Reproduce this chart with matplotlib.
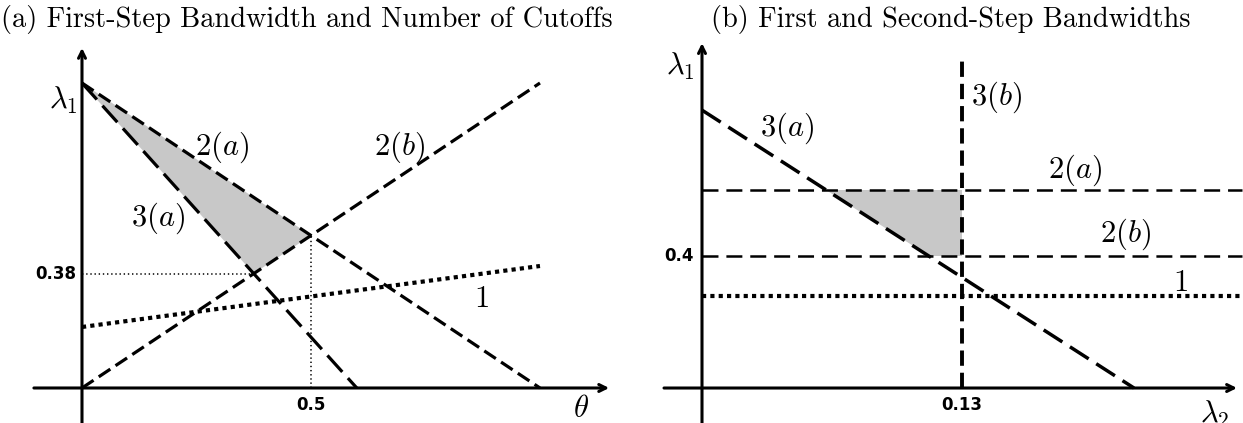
import numpy as np
import matplotlib
matplotlib.use("Agg")
import matplotlib.pyplot as plt

plt.rcParams['mathtext.fontset'] = 'cm'
plt.rcParams['lines.scale_dashes'] = False

# ---- panel (a): first-step bandwidth vs theta ----
theta_ends = [0.0, 1.0]
line_2a = [1.0, 0.0]
line_2b = [0.0, 1.0]
theta_3a = [0.0, 0.6]
line_3a = [1.0, 0.0]
line_1 = [0.2, 0.4]
theta_mark = 0.5
lam_mark = 0.375
tick_a_x = "0.5"
tick_a_y = "0.38"

# ---- panel (b): first vs second-step bandwidth ----
lam2_ends = [0.0, 0.27]
level_2a = 0.6
level_2b = 0.4
level_1 = 0.28
lam2_3a = [0.0, 0.216]
lam1_3a = [0.842, 0.0]
lam2_3b = 0.13
top_3b = 1.0
tick_b_x = "0.13"
tick_b_y = "0.4"

W, H = 1243, 423
fig = plt.figure(figsize=(W / 100, H / 100), dpi=100)


def px_axes(x0, x1, y_top):
    # axes spanning a pixel box, bottom at figure bottom
    return fig.add_axes([x0 / W, 0, (x1 - x0) / W, (H - y_top) / H])


def draw_axes(ax, xl, xr, yb, yt):
    arrow = dict(arrowstyle='->,head_length=0.5,head_width=0.25', lw=2.2, color='black',
                 shrinkA=0, shrinkB=0)
    ax.annotate('', xy=(xr, 0), xytext=(xl, 0), arrowprops=arrow)
    ax.annotate('', xy=(0, yt), xytext=(0, yb), arrowprops=arrow)


math_kw = dict(fontsize=22, ha='center', va='center')
tick_kw = dict(fontsize=12, fontweight='bold', family='DejaVu Sans', va='center')

# panel (a)
ax = px_axes(35, 615, 45)
ax.set_xlim(-0.1026, 1.1638)
ax.set_ylim(-0.1148, 1.1246)
ax.axis('off')
draw_axes(ax, -0.105, 1.151, -0.115, 1.115)

# shaded region between 3(a), 2(a) and 2(b)
ax.fill([0.0, theta_mark, lam_mark], [1.0, theta_mark, lam_mark], color='#c8c8c8', lw=0)
ax.plot(theta_ends, line_2a, color='black', lw=2.3, dashes=(10, 4.5))
ax.plot(theta_ends, line_2b, color='black', lw=2.3, dashes=(10, 4.5))
ax.plot(theta_3a, line_3a, color='black', lw=2.3, dashes=(16, 6))
ax.plot(theta_ends, line_1, color='black', lw=3, dashes=(3, 3))
ax.plot([theta_mark, theta_mark], [0, theta_mark], color='black', lw=1.1, dashes=(1, 2))
ax.plot([0, lam_mark], [lam_mark, lam_mark], color='black', lw=1.1, dashes=(1, 2))

ax.text(-0.041, 0.944, r'$\lambda_1$', **math_kw)
ax.text(0.306, 0.790, r'$2(a)$', **math_kw)
ax.text(0.694, 0.790, r'$2(b)$', **math_kw)
ax.text(0.166, 0.557, r'$3(a)$', **math_kw)
ax.text(0.873, 0.295, r'$1$', **math_kw)
ax.text(1.090, -0.066, r'$\theta$', **math_kw)
ax.text(-0.012, lam_mark, tick_a_y, ha='right', **tick_kw)
ax.text(theta_mark, -0.056, tick_a_x, ha='center', **tick_kw)

# panel (b)
bx = px_axes(660, 1243, 40)
bx.set_xlim(-0.021, 0.2705)
bx.set_ylim(-0.106, 1.0545)
bx.axis('off')
draw_axes(bx, -0.019, 0.2675, -0.11, 1.045)

slope = lam1_3a[0] / lam2_3a[1]
x_top = (lam1_3a[0] - level_2a) / slope
x_bot = (lam1_3a[0] - level_2b) / slope
bx.fill([x_top, lam2_3b, lam2_3b, x_bot], [level_2a, level_2a, level_2b, level_2b],
        color='#c8c8c8', lw=0)
bx.plot(lam2_ends, [level_2a, level_2a], color='black', lw=1.8, dashes=(11.5, 5.7))
bx.plot(lam2_ends, [level_2b, level_2b], color='black', lw=1.8, dashes=(11.5, 5.7))
bx.plot(lam2_ends, [level_1, level_1], color='black', lw=3, dashes=(3, 3))
bx.plot([lam2_3b, lam2_3b], [0, top_3b], color='black', lw=2.8, dashes=(11, 5))
bx.plot(lam2_3a, lam1_3a, color='black', lw=2.5, dashes=(16, 6.5))

bx.text(-0.011, 0.973, r'$\lambda_1$', **math_kw)
bx.text(0.1475, 0.882, r'$3(b)$', **math_kw)
bx.text(0.0425, 0.788, r'$3(a)$', **math_kw)
bx.text(0.1865, 0.661, r'$2(a)$', **math_kw)
bx.text(0.212, 0.467, r'$2(b)$', **math_kw)
bx.text(0.239, 0.321, r'$1$', **math_kw)
bx.text(0.2565, -0.080, r'$\lambda_2$', **math_kw)
bx.text(-0.004, level_2b, tick_b_y, ha='right', **tick_kw)
bx.text(lam2_3b, -0.052, tick_b_x, ha='center', **tick_kw)

fig.text(1 / W, 1 - 19 / H, '(a) First-Step Bandwidth and Number of Cutoffs',
         family='cmr10', fontsize=20.4, ha='left', va='center')
fig.text(951 / W, 1 - 19 / H, '(b) First and Second-Step Bandwidths',
         family='cmr10', fontsize=20.4, ha='center', va='center')

fig.savefig('out.png', dpi=100)
